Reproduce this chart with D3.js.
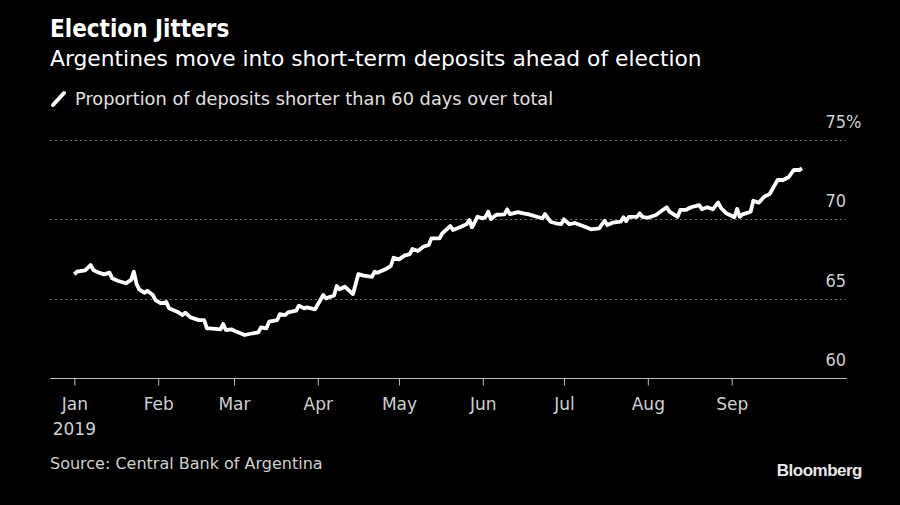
<!DOCTYPE html>
<html>
<head>
<meta charset="utf-8">
<script src="https://cdn.jsdelivr.net/npm/d3@7"></script>
<style>
  html, body { margin: 0; padding: 0; background: #000; }
  svg { display: block; }
</style>
</head>
<body>
<svg id="chart" width="900" height="505"></svg>
<script>
// ---- data ----
const title = "Election Jitters";
const subtitle = "Argentines move into short-term deposits ahead of election";
const seriesName = "Proportion of deposits shorter than 60 days over total";
const source = "Source: Central Bank of Argentina";

const dates = [
  "2019-01-01","2019-01-02","2019-01-05","2019-01-07","2019-01-08","2019-01-10","2019-01-12","2019-01-14","2019-01-15","2019-01-17",
  "2019-01-20","2019-01-22","2019-01-23","2019-01-24","2019-01-25","2019-01-27","2019-01-28","2019-01-30","2019-01-31","2019-02-02",
  "2019-02-04","2019-02-05","2019-02-08","2019-02-10","2019-02-11","2019-02-13","2019-02-16","2019-02-18","2019-02-19","2019-02-20",
  "2019-02-24","2019-02-25","2019-02-26","2019-02-28","2019-03-02","2019-03-05","2019-03-08","2019-03-10","2019-03-11","2019-03-13",
  "2019-03-14","2019-03-17","2019-03-18","2019-03-20","2019-03-21","2019-03-24","2019-03-25","2019-03-27","2019-03-28","2019-03-31",
  "2019-04-03","2019-04-04","2019-04-07","2019-04-08","2019-04-09","2019-04-11","2019-04-14","2019-04-16","2019-04-18","2019-04-21",
  "2019-04-22","2019-04-23","2019-04-26","2019-04-28","2019-04-29","2019-05-01","2019-05-03","2019-05-05","2019-05-06","2019-05-08",
  "2019-05-10","2019-05-12","2019-05-13","2019-05-16","2019-05-17","2019-05-20","2019-05-21","2019-05-24","2019-05-26","2019-05-27",
  "2019-05-28","2019-05-30","2019-06-01","2019-06-02","2019-06-03","2019-06-04","2019-06-06","2019-06-09","2019-06-10","2019-06-11",
  "2019-06-14","2019-06-16","2019-06-18","2019-06-21","2019-06-23","2019-06-24","2019-06-26","2019-06-28","2019-06-30","2019-07-01",
  "2019-07-03","2019-07-05","2019-07-08","2019-07-11","2019-07-14","2019-07-16","2019-07-17","2019-07-19","2019-07-22","2019-07-23",
  "2019-07-24","2019-07-25","2019-07-28","2019-07-29","2019-07-30","2019-08-01","2019-08-04","2019-08-06","2019-08-08","2019-08-09",
  "2019-08-12","2019-08-13","2019-08-15","2019-08-17","2019-08-20","2019-08-21","2019-08-23","2019-08-25","2019-08-27","2019-08-28",
  "2019-08-30","2019-09-02","2019-09-03","2019-09-04","2019-09-05","2019-09-08","2019-09-09","2019-09-11","2019-09-13","2019-09-15",
  "2019-09-18","2019-09-20","2019-09-22","2019-09-24","2019-09-26","2019-09-27"
];
const values = [
  66.53,66.70,66.79,67.12,66.81,66.64,66.53,66.64,66.28,66.13,
  65.97,66.18,66.70,65.92,65.59,65.37,65.50,65.23,64.91,64.71,
  64.79,64.39,64.18,63.97,64.11,63.82,63.65,63.65,63.13,63.13,
  63.07,63.40,63.02,63.07,62.92,62.71,62.82,62.88,63.19,63.13,
  63.55,63.65,64.03,63.97,64.14,64.24,64.56,64.39,64.45,64.33,
  65.23,65.02,65.20,65.80,65.59,65.75,65.29,66.55,66.45,66.38,
  66.70,66.63,66.85,67.06,67.58,67.48,67.71,67.81,68.13,68.00,
  68.27,68.38,68.80,68.80,69.12,69.58,69.33,69.53,69.70,69.96,
  69.50,70.16,70.06,70.16,70.48,70.02,70.29,70.31,70.63,70.33,
  70.46,70.38,70.31,70.16,70.06,70.33,69.85,69.75,69.70,70.00,
  69.69,69.77,69.58,69.37,69.43,69.91,69.64,69.79,69.85,70.13,
  69.89,70.16,70.16,70.38,70.16,70.10,70.27,70.52,70.76,70.48,
  70.16,70.59,70.59,70.76,70.90,70.63,70.76,70.63,71.06,70.73,
  70.38,70.13,70.66,70.16,70.31,70.48,71.17,71.05,71.42,71.59,
  72.48,72.48,72.65,73.11,73.11,73.21
];
const monthTicks = ["2019-01-01","2019-02-01","2019-03-01","2019-04-01","2019-05-01","2019-06-01","2019-07-01","2019-08-01","2019-09-01"];
const monthLabels = ["Jan","Feb","Mar","Apr","May","Jun","Jul","Aug","Sep"];
const yearLabel = "2019";
const yTicks = [60, 65, 70, 75];
const yDomain = [60, 75];
const xDomain = ["2018-12-23","2019-10-14"];

// ---- drawing ----
const FONT_C = "'DejaVu Sans Condensed', 'DejaVu Sans', sans-serif";
const FONT = "'DejaVu Sans', sans-serif";
const parse = d3.timeParse("%Y-%m-%d");
const data = dates.map((d, i) => ({ date: parse(d), value: values[i] }));

const svg = d3.select("#chart");
svg.append("rect").attr("width", 900).attr("height", 505).attr("fill", "#000");

const x = d3.scaleTime().domain(xDomain.map(parse)).range([50, 848]);
const y = d3.scaleLinear().domain(yDomain).range([378, 140]);

// titles
svg.append("text").attr("x", 50).attr("y", 37)
  .attr("font-family", FONT_C).attr("font-weight", "bold").attr("font-size", 24)
  .attr("fill", "#fff").text(title);
svg.append("text").attr("x", 50).attr("y", 66)
  .attr("font-family", FONT).attr("font-size", 21.8)
  .attr("fill", "#fff").text(subtitle);

// legend
svg.append("line").attr("x1", 53).attr("y1", 105).attr("x2", 64).attr("y2", 93)
  .attr("stroke", "#fff").attr("stroke-width", 4).attr("stroke-linecap", "round");
svg.append("text").attr("x", 75).attr("y", 105)
  .attr("font-family", FONT).attr("font-size", 17.8)
  .attr("fill", "#e0e0e0").text(seriesName);

// gridlines
svg.append("g").selectAll("line")
  .data(yTicks.filter(t => t > yDomain[0]))
  .join("line")
  .attr("x1", 50).attr("x2", 846)
  .attr("y1", d => Math.round(y(d)) + 0.5).attr("y2", d => Math.round(y(d)) + 0.5)
  .attr("stroke", "#6e6e6e").attr("stroke-width", 1).attr("stroke-dasharray", "2,3");

// y labels (right side, above gridline)
svg.append("g").selectAll("text").data(yTicks).join("text")
  .attr("x", 846).attr("y", d => y(d) - 12)
  .attr("text-anchor", "end")
  .attr("font-family", FONT_C).attr("font-size", 18)
  .attr("fill", "#cfcfcf")
  .text(d => d);
svg.append("text").attr("x", 846).attr("y", y(75) - 12)
  .attr("font-family", FONT_C).attr("font-size", 18)
  .attr("fill", "#cfcfcf").text("%");

// x axis
const xAxis = d3.axisBottom(x)
  .tickValues(monthTicks.map(parse))
  .tickFormat((d, i) => monthLabels[i])
  .tickSize(7).tickPadding(12);
const gx = svg.append("g").attr("transform", "translate(0,378.5)").call(xAxis);
gx.select(".domain").attr("stroke", "#bdbdbd").attr("d", "M50,0H847");
gx.selectAll(".tick line").attr("stroke", "#bdbdbd");
gx.selectAll(".tick text").attr("fill", "#cfcfcf")
  .attr("font-family", FONT).attr("font-size", 17);
svg.append("text").attr("x", x(parse(monthTicks[0]))).attr("y", 435)
  .attr("text-anchor", "middle")
  .attr("font-family", FONT).attr("font-size", 17)
  .attr("fill", "#cfcfcf").text(yearLabel);

// line
const line = d3.line().x(d => x(d.date)).y(d => y(d.value)).curve(d3.curveLinear);
svg.append("path").datum(data)
  .attr("d", line)
  .attr("fill", "none").attr("stroke", "#fff")
  .attr("stroke-width", 3.8).attr("stroke-linejoin", "round");

// footer
svg.append("text").attr("x", 50).attr("y", 469)
  .attr("font-family", FONT).attr("font-size", 16)
  .attr("fill", "#cfcfcf").text(source);
svg.append("text").attr("x", 862).attr("y", 476)
  .attr("text-anchor", "end")
  .attr("font-family", "'Liberation Sans', Arial, sans-serif").attr("font-weight", "bold")
  .attr("font-size", 17).attr("letter-spacing", -0.5)
  .attr("fill", "#e8e8e8").text("Bloomberg");
</script>
</body>
</html>
